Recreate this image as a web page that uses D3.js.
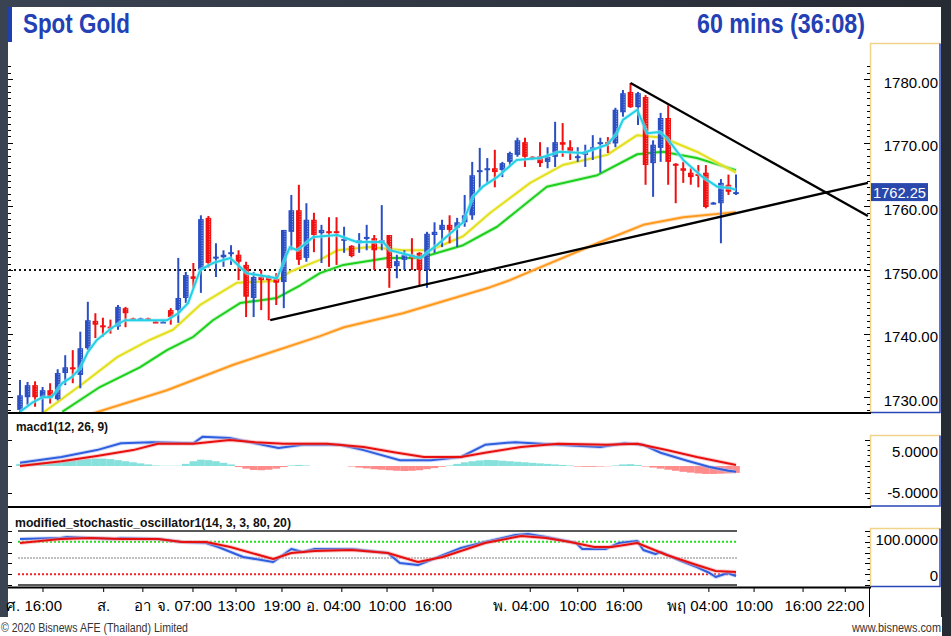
<!DOCTYPE html>
<html><head><meta charset="utf-8">
<script src="https://cdn.jsdelivr.net/npm/d3@7"></script>
<style>
html,body{margin:0;padding:0;background:#2f3542;}
svg{display:block;}
</style></head><body>
<svg id="c" width="951" height="636"></svg>
<script>
// ---------------- DATA ----------------
const candleOpen  = [1728,1730,1731.9,1730,1731.1,1729.7,1733.8,1734.7,1733.5,1737.7,1742,1741.3,1741.1,1741.1,1744,1742.4,1742.3,1742.4,1741.9,1741.8,1743.7,1743.7,1745.6,1749,1750,1758.2,1751.8,1752,1752.5,1752.4,1750.8,1745.6,1748.9,1748.9,1748.6,1748.1,1756,1759.4,1751.9,1757.9,1755.8,1756.1,1756.1,1754.6,1753.8,1754.2,1755,1755,1754.2,1755.5,1750.6,1751.6,1752.4,1752.7,1750,1755.5,1756.3,1757.1,1756.6,1757.5,1758.6,1765.4,1765.7,1766,1765.7,1767,1768.1,1770.1,1767.8,1767.9,1767,1767.8,1770.1,1769.3,1767.6,1768.1,1768.9,1769.9,1770.1,1769.9,1774.8,1778,1775.6,1777.2,1766.8,1769.2,1773.9,1766.7,1766,1765.3,1765.1,1765.3,1760.5,1760.5,1763.4,1762.1];
const candleHigh  = [1732.7,1732.4,1732.5,1731.6,1732.2,1734.4,1736.6,1737.4,1740.3,1745,1743.2,1742.5,1742.2,1744.5,1744.2,1742.5,1742.5,1742.5,1742,1742,1744,1751.9,1749.7,1751.1,1758.6,1758.5,1754.2,1753.1,1753.9,1753.1,1751.3,1749.7,1750,1749.2,1749.5,1756.3,1761.8,1763.4,1760.5,1759,1757.1,1758.3,1758.3,1756.8,1753.9,1755.8,1757.1,1755.5,1760.2,1755.5,1752.4,1753.1,1755,1752.8,1756,1757.5,1757.9,1758.6,1758.2,1761.8,1767,1769.2,1767.6,1768.9,1767,1768.6,1770.8,1770.8,1767.9,1770.1,1769.3,1773.3,1773.1,1770.4,1769.3,1769.7,1771.2,1770.8,1770.9,1775.5,1778.3,1779.4,1778,1777.5,1770.4,1774.7,1775.9,1766.8,1767,1766,1766.5,1766.5,1760.7,1764.3,1765,1765];
const candleLow   = [1727.5,1728.8,1728.5,1727.5,1729,1729.5,1731.9,1732.2,1731.4,1737.4,1739.3,1739.5,1740,1740.6,1741,1742.2,1742.2,1742.2,1741.7,1741.7,1741.4,1741.7,1744.8,1747.2,1746.4,1750.4,1748.9,1750.5,1750.8,1748.4,1742.6,1742.6,1743.7,1742.1,1744.5,1744,1753.1,1750.8,1751.3,1752.8,1751.1,1750.5,1750.8,1752.7,1752,1752.7,1753.1,1750,1753.1,1747.2,1748.7,1750,1750,1747.6,1747.2,1752.7,1753.6,1754.2,1753.6,1756.8,1757.9,1762.6,1763.7,1763,1764.6,1766.2,1767.8,1766.2,1767.3,1766.2,1766,1766.2,1767.8,1767.3,1767,1766.2,1767.3,1765.3,1768.4,1769.3,1774.1,1775.5,1772.8,1763.4,1761.5,1767,1763.4,1760.5,1763.7,1763.4,1763,1759.7,1760.3,1754.2,1761.8,1761.8];
const candleClose = [1730.3,1731.9,1730,1731.1,1730,1733.8,1734.7,1734.4,1737.7,1742.1,1741.4,1741.1,1740.8,1744.2,1743.2,1742.3,1742.4,1742.3,1741.8,1741.9,1742.6,1745.6,1749.2,1748.6,1758,1751.1,1752.1,1752.4,1752.8,1751.3,1745.8,1748.9,1748.4,1748.4,1748,1756.3,1759.4,1751.6,1757.9,1755.5,1756.3,1755.8,1755.8,1754.9,1752.2,1754.7,1755.2,1753.1,1754.7,1750.3,1751.4,1752.4,1751.9,1750,1755.7,1756,1757.1,1756.3,1757.5,1758.6,1764.9,1765.7,1766,1765.4,1766.8,1768.4,1770.4,1767.8,1767.6,1766.8,1767.8,1770.1,1769.7,1768.6,1767.9,1768.6,1769.3,1770.1,1769.9,1775.2,1777.8,1775.6,1777.8,1766.5,1769.7,1773.9,1767,1766.4,1765.6,1764.6,1764.8,1759.9,1760.6,1763.7,1762.3,1762.25];
const lastPrice = 1762.25;

// moving averages read at sample candle positions
const maCyanIdx = [0,1.7,3,4.2,5.6,6.9,8,9,10.2,12.3,13.9,19.5,21,22.3,23.9,25.6,27.9,30.1,34.1,35.8,36.8,38.9,42.1,44.7,48.2,49.1,53.1,55.3,58.8,60.1,61.4,63.3,65.9,69,71.6,74.7,77.9,79.2,80,81.9,83.2,84.9,85.8,88,90.6,92.5,94.2,95];
const maCyanVal = [1727.7,1729.2,1730,1730,1732.2,1733.2,1734.6,1737.1,1739,1741,1742.1,1742.1,1743.2,1744.8,1750,1751.1,1751.9,1749.5,1748.7,1753.6,1753.1,1755.2,1755.5,1754.4,1754.4,1753.1,1751.9,1753.9,1757.5,1761.5,1763.1,1764.6,1767.3,1767.6,1768.6,1768.4,1769.7,1771.5,1773.6,1775.2,1771.5,1771.7,1770.8,1767.3,1764.6,1763.1,1762.9,1762.6];
const maYellowIdx = [3,8.4,12.9,17.2,20.3,23.9,28.8,34.1,35.8,39.8,42.1,46.4,50.8,54.4,58.8,62.4,67.7,72,77.9,81.9,85.3,89.8,95];
const maYellowVal = [1727.5,1732.2,1736.3,1739,1740.6,1744.5,1748,1748.3,1749.7,1751.6,1753.1,1753.6,1753.1,1753.1,1755.3,1759,1763.7,1766.5,1768.1,1771.2,1770.8,1768.6,1765.3];
const maGreenIdx = [5.6,10.6,15.9,19.5,23,25.6,29.2,34.1,37.2,39.8,42.9,48.7,53.1,58.8,63.3,69.9,76.6,81.9,85.3,89.8,95];
const maGreenVal = [1727.7,1731.6,1734.7,1737.4,1739.5,1742.1,1744.8,1745.6,1747.6,1749.5,1750.8,1751.9,1751.9,1753.9,1756.8,1763.1,1764.9,1768.2,1768.6,1767.6,1765.7];
const maOrangeIdx = [9,19.5,28.3,39.8,43,50.8,62.4,65,76.6,82.7,88,95];
const maOrangeVal = [1727.2,1731.1,1735.1,1739.6,1741,1743.2,1747.3,1748.4,1754.2,1757.1,1758.3,1759.1];

// trend lines (candle index, price)
const trendUpIdx = [33.2,112.5], trendUpVal = [1742.1,1763.7];
const trendDnIdx = [81,112.5],  trendDnVal = [1779.4,1758.5];
const refLevel = 1750;

// MACD
const macdIdx  = [0,5.5,10.2,13.4,17.5,23,24.2,27.8,31.2,34.3,37.5,42.5,45.6,50.4,54.5,58.5,61.7,65.7,71.4,77,80.2,82.7,85,88.3,91.5,94,95];
const macdVal  = [0.6,1.7,3.0,4.3,4.5,4.3,5.5,5.3,4.3,3.4,4.0,4.0,3.0,1.1,1.1,1.7,4.0,4.5,4.0,3.6,4.3,4.0,2.5,1.1,-0.2,-0.9,-1.1];
const signalIdx = [0,5.5,10.2,15,18.3,23,27.8,31.2,35,40.7,45.6,49.6,53.6,58.5,61.7,66.5,71.4,77.8,81.9,85.8,89.8,95];
const signalVal = [0,0.9,1.9,3.0,4.2,4.2,4.9,4.5,4.2,4.2,3.6,2.6,1.7,1.7,2.5,3.6,4.2,4.0,4.2,3.0,1.7,0.2];
const macdHist = [0.4,0.5,0.6,0.7,0.8,0.9,1.0,1.1,1.2,1.3,1.4,1.4,1.3,1.1,0.9,0.7,0.5,0.3,0.1,0.05,0.05,0.05,0.4,0.9,1.2,1.1,0.9,0.6,0.3,-0.2,-0.5,-0.75,-0.8,-0.7,-0.5,-0.2,0.1,0.2,0.1,0,0,0,0,0,-0.1,-0.3,-0.45,-0.6,-0.7,-0.8,-0.9,-0.95,-0.9,-0.8,-0.6,-0.4,-0.15,0.1,0.4,0.7,0.9,1.05,1.15,1.1,1.0,0.9,0.8,0.7,0.6,0.5,0.4,0.3,0.2,0.1,-0.1,-0.15,-0.15,-0.1,-0.05,0.1,0.3,0.35,0.2,-0.1,-0.3,-0.5,-0.7,-0.9,-1.1,-1.25,-1.4,-1.5,-1.5,-1.45,-1.4,-1.3];

// Stochastic
const stochKIdx = [0,5.4,6.2,9.4,12.6,13.4,18.3,21.5,24.7,26.3,29.6,33.6,36,37.5,39.1,44,48.8,50.4,52.8,54.5,58.5,61.7,65.7,67.4,69.8,73.8,74.6,77.7,79.5,81.9,82.7,84.3,85,87.4,89.8,91.5,92.3,93.9,95];
const stochKVal = [85.2,87,88.9,87,85.2,87,85.2,79.6,77.8,70.4,51.9,42.6,66.7,61.1,66.7,66.7,59.3,40.7,37,46.3,68.5,79.6,92.6,94.4,88.9,77.8,66.7,66.7,77.8,81.5,64.8,57.4,61.1,46.3,33.3,22.2,14.8,22.2,16.7];
const stochDIdx = [0,5.4,9.4,13.4,18.3,21.5,24.7,27.9,33.6,36,39.1,44,48.8,52.8,56.1,61.7,66.5,69.8,73,76.2,78.5,81.9,85.8,89.8,92.3,95];
const stochDVal = [77.8,85.2,87,85.2,85.2,79.6,79.6,70.4,48.1,59.3,63,64.8,59.3,42.6,51.9,77.8,90.7,87,79.6,70.4,70.4,77.8,55.6,37,25.9,24.1];
const stochLevels = [100,80,50,20,0];

// axes
const priceTicks = [1730,1740,1750,1760,1770,1780];
const macdTicks = [5,-5];
const stochTicks = [100,0];
const timeLabels = ["ศ. 16:00","ส.","อา","จ. 07:00","13:00","19:00","อ. 04:00","10:00","16:00","พ. 04:00","10:00","16:00","พฤ 04:00","10:00","16:00","22:00"];
const timeIdx    = [3.05,11.1,16.3,22.95,28.66,34.76,42.7,48.7,54.8,67.7,74,80.1,91.4,97.4,103.9,109.5];

// ---------------- DRAW ----------------
const svg = d3.select("#c");
const FONT = "'Liberation Sans Narrow','Arial Narrow','Liberation Sans',Arial,sans-serif";
const FONT2 = "'Liberation Sans',Arial,sans-serif";

const defs = svg.append("defs");
const g0 = defs.append("linearGradient").attr("id","bg").attr("x1",0).attr("x2",1).attr("y1",0).attr("y2",0);
g0.append("stop").attr("offset","0%").attr("stop-color","#3a4352");
g0.append("stop").attr("offset","100%").attr("stop-color","#262a33");
svg.append("rect").attr("width",951).attr("height",636).attr("fill","url(#bg)");
svg.append("rect").attr("x",8).attr("y",7).attr("width",933).attr("height",611).attr("fill","#fff");
svg.append("rect").attr("x",0).attr("y",617).attr("width",942).attr("height",19).attr("fill","#fff");

// title
svg.append("rect").attr("x",8).attr("y",7).attr("width",4).attr("height",35).attr("fill","#1f3fb0");
svg.append("text").attr("x",23).attr("y",33).text("Spot Gold")
  .attr("font-family",FONT).attr("font-weight","bold").attr("font-size",28).attr("fill","#2340b4")
  .attr("textLength",107).attr("lengthAdjust","spacingAndGlyphs");
svg.append("text").attr("x",697).attr("y",33).text("60 mins (36:08)")
  .attr("font-family",FONT).attr("font-weight","bold").attr("font-size",28).attr("fill","#2340b4")
  .attr("textLength",168).attr("lengthAdjust","spacingAndGlyphs");

const x = d3.scaleLinear().domain([0,95]).range([20,736]);
const y = d3.scaleLinear().domain([1730,1780]).range([397.2,79.2]);
const yM = d3.scaleLinear().domain([-5,5]).range([492.5,439.5]);
const yS = d3.scaleLinear().domain([0,100]).range([585,531]);

defs.append("clipPath").attr("id","cm").append("rect").attr("x",9).attr("y",43).attr("width",860).attr("height",369);
defs.append("clipPath").attr("id","cmacd").append("rect").attr("x",9).attr("y",414).attr("width",860).attr("height",92);

// axis boxes
function axisBox(y0,y1){
  const bx=870.5, bw=69.5;
  svg.append("rect").attr("x",bx).attr("y",y0).attr("width",bw).attr("height",y1-y0).attr("fill","#fff");
  svg.append("path").attr("d",`M${bx},${y1}V${y0}H${bx+bw}`).attr("fill","none").attr("stroke","#f1d48a").attr("stroke-width",1.5);
  svg.append("path").attr("d",`M${bx+bw},${y0}V${y1}H${bx}`).attr("fill","none").attr("stroke","#2846b8").attr("stroke-width",1.5);
}
axisBox(43.5,412.5);
axisBox(435.5,506);
axisBox(528.5,586.5);

// main ticks
const tickG = svg.append("g").attr("stroke","#000").attr("stroke-width",1);
d3.range(1727,1783).forEach(v=>{
  const yy = Math.round(y(v))+0.5;
  if (yy<45||yy>411) return;
  const major = v%10===0;
  tickG.append("line").attr("x1",8).attr("x2",major?13:11).attr("y1",yy).attr("y2",yy);
  tickG.append("line").attr("x1",major?864:867).attr("x2",870).attr("y1",yy).attr("y2",yy);
});
// macd ticks
d3.range(-6,7).forEach(v=>{
  const yy = Math.round(yM(v))+0.5;
  if (yy<437||yy>505) return;
  const major = v%5===0;
  if (major) tickG.append("line").attr("x1",8).attr("x2",12).attr("y1",yy).attr("y2",yy);
  tickG.append("line").attr("x1",major?865:867.5).attr("x2",870).attr("y1",yy).attr("y2",yy);
});
// stoch ticks
d3.range(0,101,10).forEach(v=>{
  const yy = Math.round(yS(v))+0.5;
  const major = v%20===0;
  if (major) tickG.append("line").attr("x1",8).attr("x2",12).attr("y1",yy).attr("y2",yy);
  tickG.append("line").attr("x1",major?865:867.5).attr("x2",870).attr("y1",yy).attr("y2",yy);
});

// panel separators
svg.append("g").attr("stroke","#000").attr("stroke-width",2).selectAll("line")
  .data([413,507,587.5]).join("line").attr("x1",8).attr("x2",871).attr("y1",d=>d).attr("y2",d=>d);

// price labels
svg.append("g").selectAll("text").data(priceTicks).join("text")
  .attr("x",938).attr("y",d=>y(d)+8.5).attr("text-anchor","end")
  .attr("font-family",FONT2).attr("font-size",15).attr("fill","#000").text(d=>d.toFixed(2));

// main plot
const main = svg.append("g").attr("clip-path","url(#cm)");
main.append("line").attr("x1",9).attr("x2",869).attr("y1",y(refLevel)).attr("y2",y(refLevel))
  .attr("stroke","#111").attr("stroke-width",2).attr("stroke-dasharray","2,3");

function maLine(g, idx, val, yscale, col, halo, w){
  const pts = idx.map((d,i)=>[d,val[i]]);
  const ln = d3.line().x(d=>x(d[0])).y(d=>yscale(d[1]));
  g.append("path").attr("d",ln(pts)).attr("fill","none").attr("stroke",halo).attr("stroke-width",w+2).attr("stroke-opacity",0.55).attr("stroke-linejoin","round");
  g.append("path").attr("d",ln(pts)).attr("fill","none").attr("stroke",col).attr("stroke-width",w).attr("stroke-linejoin","round");
}
maLine(main, maOrangeIdx, maOrangeVal, y, "#ff9a1e", "#ffc98a", 2);
maLine(main, maGreenIdx, maGreenVal, y, "#1ecf1e", "#9ff09f", 2);
maLine(main, maYellowIdx, maYellowVal, y, "#e3e01c", "#f3f19a", 2);

// candles
const candles = main.append("g");
candleOpen.forEach((o,i)=>{
  const c = candleClose[i], up = c>=o;
  const col = up ? "#2a4fc4" : "#f20f0f";
  const cx = x(i);
  candles.append("line").attr("x1",cx).attr("x2",cx).attr("y1",y(candleHigh[i])).attr("y2",y(candleLow[i]))
    .attr("stroke",col).attr("stroke-width",2);
  const top = y(Math.max(o,c)), bot = y(Math.min(o,c));
  const h = Math.max(bot-top,2);
  candles.append("rect").attr("x",cx-2.8).attr("y",top).attr("width",5.6).attr("height",h).attr("fill",col);
  if (h>3) candles.append("line").attr("x1",cx+1.2).attr("x2",cx+1.2).attr("y1",top+1).attr("y2",top+h-1)
    .attr("stroke","#fff").attr("stroke-width",1).attr("stroke-dasharray","1,1.5").attr("stroke-opacity",0.55);
});
maLine(main, maCyanIdx, maCyanVal, y, "#22d0e6", "#a6eef5", 2);

// trend lines
const tl = d3.line().x(d=>x(d[0])).y(d=>y(d[1]));
main.append("path").attr("d",tl(trendUpIdx.map((d,i)=>[d,trendUpVal[i]]))).attr("stroke","#000").attr("stroke-width",2.3).attr("fill","none");
main.append("path").attr("d",tl(trendDnIdx.map((d,i)=>[d,trendDnVal[i]]))).attr("stroke","#000").attr("stroke-width",2.3).attr("fill","none");

// last price tag
svg.append("rect").attr("x",871).attr("y",y(lastPrice)-9).attr("width",57).attr("height",18).attr("fill","#2848ac");
svg.append("text").attr("x",873).attr("y",y(lastPrice)+5.5).attr("font-family",FONT2).attr("font-size",15)
  .attr("fill","#fff").attr("textLength",53).attr("lengthAdjust","spacingAndGlyphs").text(lastPrice.toFixed(2));

// MACD panel
svg.append("text").attr("x",16).attr("y",431).text("macd1(12, 26, 9)")
  .attr("font-family",FONT).attr("font-weight","bold").attr("font-size",13).attr("fill","#111")
  .attr("textLength",92).attr("lengthAdjust","spacingAndGlyphs");
const mg = svg.append("g").attr("clip-path","url(#cmacd)");
macdHist.forEach((h,i)=>{
  const y0 = yM(0), y1 = yM(h);
  mg.append("rect").attr("x",x(i)-3.8).attr("width",7.6)
    .attr("y",Math.min(y0,y1)).attr("height",Math.abs(y1-y0))
    .attr("fill",h>=0?"#86e0dc":"#ff8b8b");
});
maLine(mg, macdIdx, macdVal, yM, "#2f5fe0", "#a9bdf3", 2);
maLine(mg, signalIdx, signalVal, yM, "#e8100f", "#f5a3a3", 2);
svg.append("g").selectAll("text").data(macdTicks).join("text")
  .attr("x",938).attr("y",d=> d>0 ? yM(d)+17 : yM(d)+5).attr("text-anchor","end")
  .attr("font-family",FONT2).attr("font-size",15).attr("fill","#000").text(d=>d.toFixed(4));

// Stoch panel
svg.append("text").attr("x",15).attr("y",527).text("modified_stochastic_oscillator1(14, 3, 3, 80, 20)")
  .attr("font-family",FONT).attr("font-weight","bold").attr("font-size",13).attr("fill","#111")
  .attr("textLength",276).attr("lengthAdjust","spacingAndGlyphs");
const sg = svg.append("g");
const lvlStyle = {100:["#222","none",1.5],0:["#222","none",1.5],80:["#22dd22","2,2",2],50:["#aaa","2,1",1.5],20:["#ee2222","2,2",2]};
stochLevels.forEach(v=>{
  const s = lvlStyle[v];
  sg.append("line").attr("x1",x(0)-2).attr("x2",x(95)+1).attr("y1",yS(v)).attr("y2",yS(v))
    .attr("stroke",s[0]).attr("stroke-dasharray",s[1]).attr("stroke-width",s[2]);
});
maLine(sg, stochKIdx, stochKVal, yS, "#2f5fe0", "#a9bdf3", 2);
maLine(sg, stochDIdx, stochDVal, yS, "#e8100f", "#f5a3a3", 2);
svg.append("g").selectAll("text").data(stochTicks).join("text")
  .attr("x",938).attr("y",d=> d>0 ? yS(d)+14 : yS(d)-4).attr("text-anchor","end")
  .attr("font-family",FONT2).attr("font-size",15).attr("fill","#000").text(d=> d>0 ? d.toFixed(4) : "0");

// time axis
svg.append("line").attr("x1",869.5).attr("x2",869.5).attr("y1",588).attr("y2",617).attr("stroke","#000").attr("stroke-width",1);
const ta = svg.append("g");
timeLabels.forEach((t,i)=>{
  const tx = x(timeIdx[i]);
  const dayOnly = !t.includes(":");
  ta.append("line").attr("x1",tx).attr("x2",tx).attr("y1",588).attr("y2",592).attr("stroke","#000");
  ta.append("text").attr("x", dayOnly ? tx : tx+19).attr("y",611)
    .attr("text-anchor", dayOnly ? "middle" : "end")
    .attr("font-family",FONT2).attr("font-size",15).attr("fill","#000").text(t);
});

// footer
svg.append("text").attr("x",1).attr("y",632).text("© 2020 Bisnews AFE (Thailand) Limited")
  .attr("font-family",FONT).attr("font-size",12).attr("fill","#333")
  .attr("textLength",187).attr("lengthAdjust","spacingAndGlyphs");
svg.append("text").attr("x",941).attr("y",632).attr("text-anchor","end").text("www.bisnews.com")
  .attr("font-family",FONT).attr("font-size",12).attr("fill","#333")
  .attr("textLength",89).attr("lengthAdjust","spacingAndGlyphs");
</script>
</body></html>
